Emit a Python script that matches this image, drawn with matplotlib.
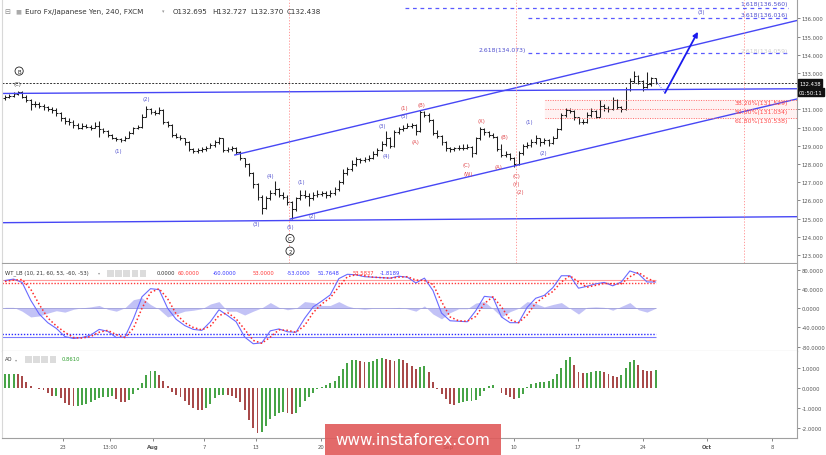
import matplotlib
matplotlib.use('Agg')
import matplotlib.pyplot as plt
from matplotlib.patches import Rectangle
from matplotlib.ticker import FormatStrFormatter
import numpy as np

# EUR/JPY, 8h bars (open = previous close)
first_open = 131.60
close = [
    131.68, 131.75, 131.85, 131.93, 131.70, 131.50, 131.30, 131.30, 131.20, 131.10,
    131.00, 130.95, 130.80, 130.50, 130.35, 130.30, 130.15, 130.00, 130.10, 130.05,
    130.00, 130.10, 129.90, 129.80, 129.60, 129.45, 129.35, 129.30, 129.45, 129.70,
    129.95, 130.05, 130.60, 131.00, 130.85, 130.80, 130.95, 130.30, 130.15, 129.60,
    129.50, 129.40, 129.20, 128.80, 128.70, 128.75, 128.80, 128.90, 129.05, 129.20,
    129.40, 128.75, 128.80, 128.85, 128.65, 128.30, 128.00, 127.50, 126.90, 126.20,
    125.60, 126.10, 126.40, 126.60, 126.30, 126.20, 125.90, 125.50, 126.10, 126.30,
    126.25, 126.10, 126.30, 126.35, 126.40, 126.30, 126.40, 126.60, 127.00, 127.50,
    127.70, 128.00, 128.25, 128.20, 128.25, 128.30, 128.55, 128.75, 129.10, 129.45,
    129.00, 129.75, 129.90, 130.00, 130.10, 130.15, 129.80, 130.85, 130.70, 130.40,
    129.70, 129.55, 129.20, 128.85, 128.80, 128.85, 128.90, 128.90, 128.95, 128.60,
    129.40, 129.90, 129.75, 129.60, 129.50, 128.80, 128.50, 128.55, 128.35, 128.00,
    128.60, 129.00, 129.05, 129.20, 129.40, 129.20, 129.30, 129.15, 129.45, 129.90,
    130.70, 130.95, 130.90, 130.55, 130.30, 130.30, 130.70, 130.90, 130.60, 131.20,
    131.05, 131.00, 131.50, 131.10, 131.00, 132.10, 132.55, 132.85, 132.55, 132.25,
    132.40, 132.695, 132.438]
high = [
    131.80, 131.85, 131.95, 132.02, 132.00, 131.78, 131.55, 131.45, 131.38, 131.30,
    131.20, 131.12, 131.05, 130.85, 130.60, 130.50, 130.40, 130.25, 130.25, 130.20,
    130.15, 130.30, 130.35, 130.00, 129.85, 129.65, 129.50, 129.42, 129.55, 129.80,
    130.05, 130.15, 130.75, 131.20, 131.05, 130.95, 131.10, 131.00, 130.35, 130.20,
    129.70, 129.60, 129.45, 129.25, 128.90, 128.85, 128.92, 129.00, 129.15, 129.30,
    129.50, 129.45, 128.95, 129.00, 128.95, 128.70, 128.35, 128.05, 127.55, 126.95,
    126.30, 126.25, 126.55, 127.08, 126.70, 126.45, 126.30, 125.95, 126.20, 126.55,
    126.55, 126.40, 126.45, 126.55, 126.50, 126.50, 126.55, 126.75, 127.10, 127.70,
    127.85, 128.20, 128.40, 128.35, 128.40, 128.50, 128.70, 128.90, 129.25, 129.80,
    129.50, 129.85, 130.05, 130.15, 130.25, 130.25, 130.20, 130.95, 130.90, 130.80,
    130.45, 129.85, 129.60, 129.25, 128.95, 128.95, 129.05, 129.10, 129.10, 129.00,
    129.50, 130.05, 129.95, 129.80, 129.70, 129.55, 129.10, 128.70, 128.60, 128.40,
    128.70, 129.10, 129.20, 129.35, 129.60, 129.45, 129.45, 129.35, 129.55, 130.00,
    130.80, 131.05, 131.05, 130.95, 130.60, 130.45, 130.85, 131.05, 130.95, 131.50,
    131.30, 131.20, 131.65, 131.55, 131.20, 132.20, 132.70, 133.12, 132.90, 132.60,
    133.06, 132.80, 132.727]
low = [
    131.52, 131.60, 131.68, 131.78, 131.62, 131.40, 130.98, 131.15, 131.08, 130.98,
    130.88, 130.80, 130.65, 130.35, 130.20, 130.15, 130.00, 129.90, 129.92, 129.95,
    129.88, 129.95, 129.50, 129.68, 129.50, 129.35, 129.25, 129.20, 129.25, 129.40,
    129.65, 129.90, 130.00, 130.55, 130.75, 130.70, 130.75, 130.20, 130.05, 129.50,
    129.40, 129.30, 129.05, 128.70, 128.60, 128.62, 128.65, 128.72, 128.85, 128.95,
    129.10, 128.65, 128.65, 128.70, 128.55, 128.20, 127.85, 127.35, 126.70, 126.00,
    125.25, 125.50, 126.00, 126.30, 126.20, 126.05, 125.75, 124.95, 125.40, 126.00,
    126.10, 125.70, 126.00, 126.20, 126.25, 126.15, 126.20, 126.30, 126.50, 126.90,
    127.40, 127.60, 127.90, 128.05, 128.10, 128.15, 128.25, 128.45, 128.70, 129.00,
    128.85, 128.95, 129.65, 129.80, 129.95, 129.95, 129.60, 129.75, 130.55, 130.30,
    129.60, 129.40, 129.05, 128.70, 128.65, 128.70, 128.75, 128.75, 128.80, 128.40,
    128.55, 129.30, 129.60, 129.50, 129.40, 128.70, 128.40, 128.40, 128.20, 127.85,
    127.95, 128.50, 128.90, 128.95, 129.10, 129.00, 129.10, 129.00, 129.10, 129.40,
    129.85, 130.60, 130.80, 130.40, 130.20, 130.20, 130.25, 130.60, 130.50, 130.55,
    130.90, 130.85, 130.95, 131.00, 130.85, 130.95, 132.00, 132.45, 132.40, 132.00,
    132.15, 132.30, 132.37]

# WaveTrend (every second bar)
wt1 = [58, 61, 54, 17, -12, -30, -42, -59, -63, -61,
       -56, -44, -48, -61, -60, -22, 24, 41, 39, 0,
       -23, -36, -44, -46, -28, -3, -15, -28, -60, -74,
       -72, -47, -43, -49, -50, -21, 3, 15, 28, 62,
       71, 70, 66, 65, 64, 63, 67, 65, 53, 63,
       37, -10, -26, -27, -28, -5, 25, 23, -18, -30,
       -30, 2, 21, 27, 43, 68, 68, 42, 46, 51,
       54, 47, 55, 78, 72, 55, 55]
wt2 = [56, 59, 60, 40, 8, -20, -37, -50, -61, -62,
       -59, -50, -46, -55, -61, -42, 0, 33, 41, 20,
       -12, -30, -40, -45, -37, -15, -9, -22, -44, -67,
       -73, -60, -45, -46, -50, -36, -9, 9, 22, 45,
       66, 70, 68, 65, 64, 63, 65, 66, 59, 58,
       50, 14, -18, -26, -27, -17, 10, 24, 3, -24,
       -30, -14, 11, 24, 35, 55, 68, 55, 44, 48,
       52, 51, 51, 66, 75, 63, 55]
wt_hist = [2, 2, -6, -18, -16, -10, -5, -8, -2, 1,
           3, 6, -2, -6, 1, 18, 22, 8, -2, -18,
           -12, -6, -4, -1, 9, 14, -6, -6, -14, -6,
           1, 12, 2, -3, 0, 14, 12, 6, 6, 14,
           5, 0, -2, 0, 0, 0, 2, -1, -6, 5,
           -12, -22, -9, -1, -1, 11, 14, -1, -18, -7,
           0, 14, 10, 3, 8, 12, 0, -12, 2, 3,
           2, -4, 4, 12, -3, -8, 0]

# Awesome Oscillator
ao = [0.69, 0.69, 0.69, 0.68, 0.57, 0.30, 0.10, 0.00, -0.06, -0.13,
      -0.24, -0.40, -0.40, -0.53, -0.75, -0.88, -0.90, -0.90, -0.85, -0.80,
      -0.71, -0.62, -0.53, -0.47, -0.45, -0.40, -0.55, -0.70, -0.73, -0.60,
      -0.32, -0.09, 0.25, 0.65, 0.84, 0.85, 0.65, 0.33, 0.07, -0.19,
      -0.34, -0.46, -0.64, -0.85, -1.03, -1.10, -1.11, -1.03, -0.80, -0.50,
      -0.34, -0.34, -0.38, -0.42, -0.50, -0.69, -1.12, -1.62, -2.00, -2.26,
      -2.23, -1.90, -1.56, -1.41, -1.27, -1.23, -1.25, -1.30, -1.25, -0.96,
      -0.67, -0.45, -0.24, -0.07, 0.05, 0.12, 0.23, 0.34, 0.60, 0.95,
      1.25, 1.40, 1.41, 1.33, 1.28, 1.31, 1.36, 1.45, 1.50, 1.42,
      1.38, 1.35, 1.42, 1.38, 1.26, 1.10, 0.96, 1.05, 1.10, 0.80,
      0.28, -0.04, -0.30, -0.58, -0.80, -0.86, -0.76, -0.70, -0.68, -0.67,
      -0.60, -0.40, -0.16, 0.11, 0.16, 0.00, -0.26, -0.38, -0.48, -0.58,
      -0.53, -0.30, 0.05, 0.19, 0.25, 0.27, 0.28, 0.35, 0.43, 0.67,
      1.00, 1.40, 1.55, 1.15, 0.80, 0.72, 0.73, 0.77, 0.82, 0.82,
      0.78, 0.68, 0.58, 0.53, 0.62, 0.98, 1.30, 1.40, 1.15, 0.90,
      0.83, 0.82, 0.861]

date_ticks = [13.5, 24.5, 34.6, 46.5, 58.6, 73.8, 103.5, 118.9, 133.9, 149.1, 164.0, 179.2]
date_labels = ['23', '13:00', 'Aug', '7', '13', '20', 'Sep', '10', '17', '24', 'Oct', '8']

fib_ext = [('1.618', 136.560, 93.5), ('3.618', 136.016, 122.2), ('2.618', 134.073, 122.2)]
fib_ret = [('38.20%', 131.529), ('50.00%', 131.034), ('61.80%', 130.538)]

# trend lines: (x0, p0, x1, p1)
trend_lines = [(-0.7, 131.87, 185.05, 132.13),
               (-0.7, 124.77, 185.05, 125.10),
               (53.7, 128.49, 185.05, 135.88),
               (66.6, 124.97, 185.05, 131.57)]
vlines_red = [66.3, 119.4, 172.7]

BLUE = '#5151cf'
RED = '#e0474c'
wave_labels = [
    ('(C)', 2.9, 132.42, '#444444'), ('(1)', 26.4, 128.73, BLUE), ('(2)', 33.1, 131.57, BLUE),
    ('(3)', 58.6, 124.75, BLUE), ('(4)', 62.1, 127.39, BLUE), ('(5)', 66.6, 124.55, BLUE),
    ('(1)', 69.2, 127.03, BLUE), ('(2)', 71.7, 125.15, BLUE), ('(3)', 88.2, 130.10, BLUE),
    ('(4)', 89.2, 128.45, BLUE), ('(1)', 93.3, 131.11, RED), ('(5)', 93.3, 130.65, BLUE),
    ('(B)', 97.4, 131.25, RED), ('(A)', 95.8, 129.22, RED), ('(X)', 111.4, 130.40, RED),
    ('(C)', 107.9, 127.96, RED), ('(W)', 108.3, 127.50, RED), ('(A)', 115.3, 127.88, RED),
    ('(B)', 116.8, 129.49, RED), ('(C)', 119.5, 127.39, RED), ('(Y)', 119.5, 126.95, RED),
    ('(2)', 120.3, 126.51, RED), ('(1)', 122.5, 130.32, BLUE), ('(2)', 125.8, 128.64, BLUE),
    ('(3)', 162.6, 136.35, BLUE)]
circled_labels = [('B', 3.3, 133.10), ('C', 66.6, 123.90), ('2', 66.6, 123.21)]

W, H = 826, 456
fig = plt.figure(figsize=(W / 100, H / 100), dpi=100)
plt.rcParams['font.family'] = ['DejaVu Sans']


def box(x0, y0, x1, y1):
    return [x0 / W, 1 - y1 / H, (x1 - x0) / W, (y1 - y0) / H]


ax = fig.add_axes(box(2, 1, 797, 264))
ax_wt = fig.add_axes(box(2, 265, 797, 352), sharex=ax)
ax_ao = fig.add_axes(box(2, 352, 797, 439), sharex=ax)

for a in (ax, ax_wt, ax_ao):
    a.yaxis.tick_right()
    a.tick_params(axis='y', direction='out', length=2, width=0.5, colors='#555555',
                  labelsize=3.8, pad=1.5)
    a.spines['top'].set_visible(False)
    a.spines['left'].set_color('#d8d8d8')
    a.spines['right'].set_color('#a0a0a0')
    a.spines['bottom'].set_color('#a0a0a0')
    for s in a.spines.values():
        s.set_linewidth(0.8)
ax.tick_params(axis='x', bottom=False, labelbottom=False)
ax_wt.tick_params(axis='x', bottom=False, labelbottom=False)

x = np.arange(len(close))
opens = np.r_[first_open, close[:-1]]
ax.set_xlim(-0.7, 185.05)

# ---- main price panel ----
ax.set_ylim(122.555, 137.006)
ax.set_yticks([123, 124, 125, 126, 127, 128, 129, 130, 131, 133, 134, 135, 136])
ax.yaxis.set_major_formatter(FormatStrFormatter('%.3f'))

ax.vlines(x, low, high, color='#1e1e1e', lw=0.75)
ax.hlines(opens, x - 0.45, x, color='#1e1e1e', lw=0.75)
ax.hlines(close, x, x + 0.45, color='#1e1e1e', lw=0.75)

ax.axhline(close[-1], color='#333333', lw=0.7, ls=(0, (2, 1.5)))
for x0, p0, x1, p1 in trend_lines:
    ax.plot([x0, x1], [p0, p1], color='#4747f5', lw=1.0)
for v in vlines_red:
    ax.axvline(v, color='#ff8a8a', lw=0.6, ls=(0, (1.5, 2)))

for name, price, start in fib_ext:
    ax.plot([start, 182.9], [price, price], color='#5a5aff', lw=0.9, ls=(0, (3, 3)))
ax.text(182.9, fib_ext[0][1] + 0.1, '%s(%.3f)' % fib_ext[0][:2], color=BLUE,
        fontsize=4.4, ha='right', va='bottom')
ax.text(182.9, fib_ext[1][1] + 0.08, '%s(%.3f)' % fib_ext[1][:2], color=BLUE,
        fontsize=4.4, ha='right', va='bottom')
ax.text(121.8, fib_ext[2][1] + 0.05, '%s(%.3f)' % fib_ext[2][:2], color=BLUE,
        fontsize=4.4, ha='right', va='bottom')
ax.text(182.9, 134.10, '2.618(134.059)', color='#d0d0d0', fontsize=4.4, ha='right', va='bottom')

for name, price in fib_ret:
    ax.plot([126.2, 185.05], [price, price], color='#ff6b6b', lw=0.7, ls=(0, (1, 1.5)))
    ax.text(182.9, price - 0.04, '%s(%.3f)' % (name, price), color='#ff4a4a',
            fontsize=4.4, ha='right', va='top')
ax.axhspan(fib_ret[2][1], fib_ret[0][1], xmin=(126.2 + 0.7) / 185.75, color='#fff2f2', zorder=0)

# projected path
ax.plot([152.3, 154.2], [132.5, 131.9], color='#3030ff', lw=0.6, ls=':')
ax.annotate('', xy=(161.9, 135.26), xytext=(154.2, 131.9),
            arrowprops=dict(arrowstyle='-|>', color='#1a1aee', lw=1.3,
                            mutation_scale=7, shrinkA=0, shrinkB=0))

for t, xi, p, c in wave_labels:
    ax.text(xi, p, t, color=c, fontsize=3.8, ha='center', va='center')
for t, xi, p in circled_labels:
    ax.text(xi, p, t, color='#222222', fontsize=3.8, ha='center', va='center',
            bbox=dict(boxstyle='circle,pad=0.3', fc='white', ec='#222222', lw=0.6))

ax.annotate('%.3f' % close[-1], xy=(1, close[-1]), xycoords=('axes fraction', 'data'),
            xytext=(1.5, 0), textcoords='offset points', fontsize=3.8, color='white',
            va='center', ha='left', annotation_clip=False,
            bbox=dict(boxstyle='square,pad=0.3', fc='#111111', ec='#111111'))
ax.annotate('01:50:11', xy=(1, close[-1] - 0.5), xycoords=('axes fraction', 'data'),
            xytext=(1.5, 0), textcoords='offset points', fontsize=3.8, color='white',
            va='center', ha='left', annotation_clip=False,
            bbox=dict(boxstyle='square,pad=0.3', fc='#111111', ec='#111111'))

# ---- WaveTrend panel ----
xw = np.arange(0, len(close), 2)
ax_wt.set_ylim(-89.1, 92.5)
ax_wt.set_yticks([80, 40, 0, -40, -80])
ax_wt.yaxis.set_major_formatter(FormatStrFormatter('%.4f'))
end = x[-1]
ax_wt.hlines(60, -0.7, end, color='#ff9d9d', lw=0.8)
ax_wt.hlines(53, -0.7, end, color='#ff3a3a', lw=1.0, ls=(0, (1, 1.2)))
ax_wt.hlines(-60, -0.7, end, color='#7d7dff', lw=0.8)
ax_wt.hlines(-53, -0.7, end, color='#2a2aff', lw=1.0, ls=(0, (1, 1.2)))
ax_wt.hlines(0, -0.7, end, color='#9a9ad8', lw=0.6)
ax_wt.fill_between(xw, wt_hist, 0, color='#9a9af0', alpha=0.6, lw=0)
ax_wt.plot(xw, wt1, color='#6a6aff', lw=0.8)
ax_wt.plot(xw, wt2, color='#ff2a2a', lw=1.1, ls=(0, (1, 1.5)))

# ---- AO panel ----
ax_ao.set_ylim(-2.515, 1.835)
ax_ao.set_yticks([1, 0, -1, -2])
ax_ao.yaxis.set_major_formatter(FormatStrFormatter('%.4f'))
ao_arr = np.array(ao)
rising = np.r_[True, ao_arr[1:] >= ao_arr[:-1]]
colors = np.where(rising, '#47a447', '#a84a4a')
ax_ao.bar(x, ao_arr, width=0.45, color=colors, lw=0)
ax_ao.set_xticks(date_ticks)
ax_ao.set_xticklabels(date_labels)
ax_ao.tick_params(axis='x', direction='out', length=2, width=0.5, colors='#555555',
                  labelsize=3.8, pad=2)
for lab in ax_ao.get_xticklabels():
    if lab.get_text() in ('Aug', 'Oct', 'Sep'):
        lab.set_fontweight('bold')

# ---- header texts ----
def ftext(px, py, s, **kw):
    fig.text(px / W, 1 - py / H, s, va='center', ha='left', **kw)


ftext(4, 12, '\u229f', fontsize=5, color='#888888')
ftext(15, 12, '\u25a0', fontsize=4.5, color='#aaaaaa')
ftext(25, 12, 'Euro Fx/Japanese Yen, 240, FXCM', fontsize=5.1, color='#333333')
ftext(162, 12, '\u25be', fontsize=3.5, color='#999999')
for px, s in [(173, 'O132.695'), (212, 'H132.727'), (250, 'L132.370'), (287, 'C132.438')]:
    ftext(px, 12, s, fontsize=5.1, color='#333333')

ftext(5, 273.5, 'WT_LB (10, 21, 60, 53, -60, -53)', fontsize=3.8, color='#333333')
ftext(98, 273.5, '\u25be', fontsize=3, color='#999999')
for k in range(5):
    fig.add_artist(Rectangle(((107 + 8.2 * k) / W, 1 - 277.5 / H), 6.5 / W, 7 / H,
                             transform=fig.transFigure, color='#dcdcdc', lw=0))
for px, s, c in [(157, '0.0000', '#333333'), (178, '60.0000', '#ff3a3a'),
                 (213, '-60.0000', '#3a3aff'), (253, '53.0000', '#ff3a3a'),
                 (287, '-53.0000', '#3a3aff'), (318, '51.7648', '#3a3aff'),
                 (353, '53.5837', '#ff3a3a'), (380, '-1.8189', '#3a3aff')]:
    ftext(px, 273.5, s, fontsize=3.8, color=c)

ftext(5, 360, 'AO', fontsize=3.8, color='#333333')
ftext(15, 360, '\u25be', fontsize=3, color='#999999')
for k in range(4):
    fig.add_artist(Rectangle(((25 + 8.2 * k) / W, 1 - 364 / H), 6.5 / W, 7 / H,
                             transform=fig.transFigure, color='#dcdcdc', lw=0))
ftext(62, 360, '%.4f' % ao[-1], fontsize=3.8, color='#2e9e2e')

# watermark
fig.add_artist(Rectangle((325 / W, 0), 176 / W, 31 / H, transform=fig.transFigure,
                         color='#e05a5a', alpha=0.9, lw=0, zorder=10))
fig.text(413 / W, 1 - 441 / H, 'www.instaforex.com', color='white', fontsize=11,
         ha='center', va='center', zorder=11)

fig.savefig('out.png', dpi=100)
